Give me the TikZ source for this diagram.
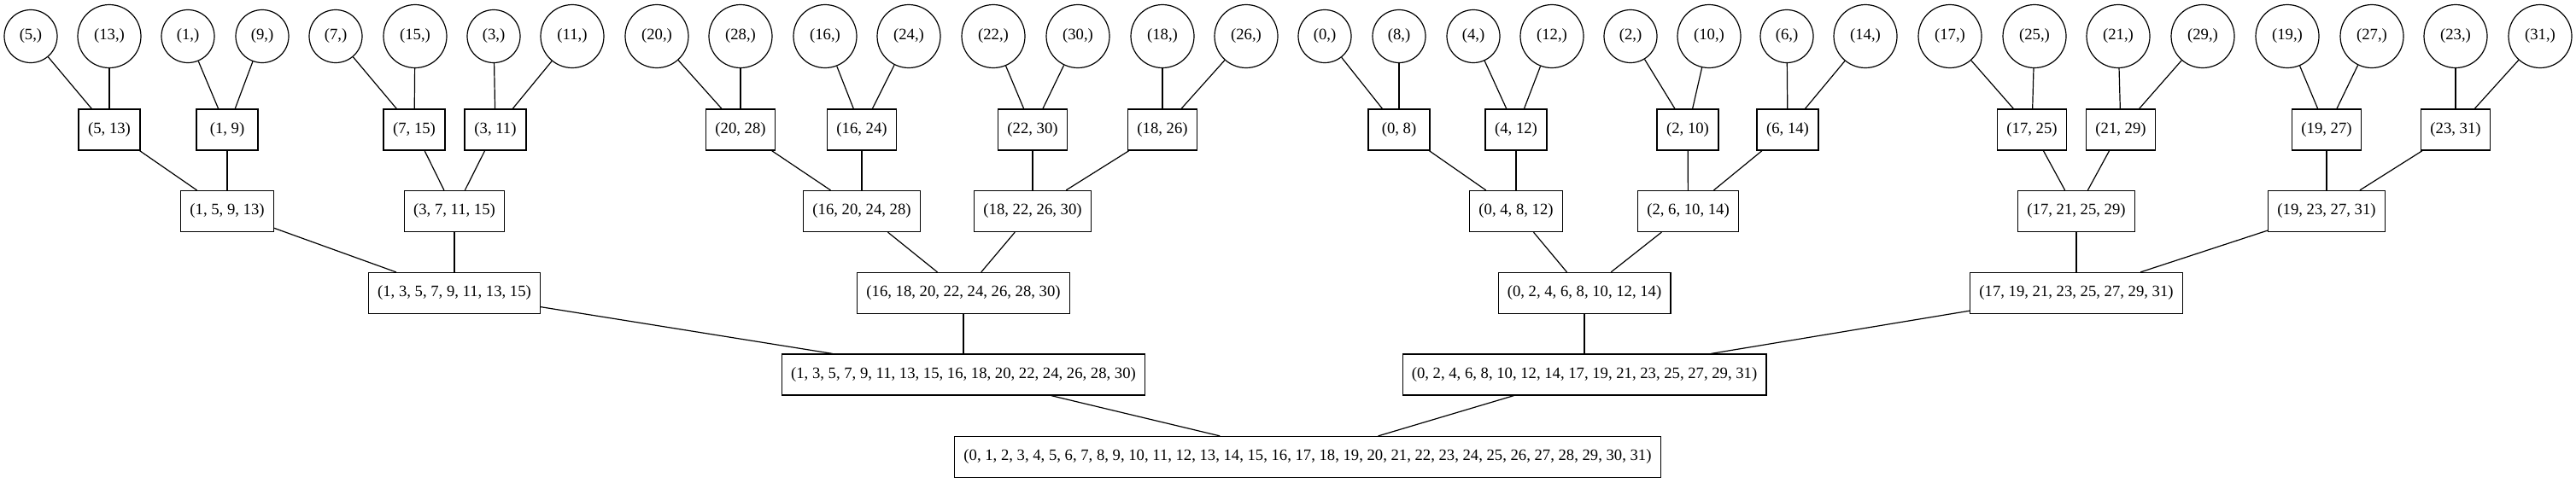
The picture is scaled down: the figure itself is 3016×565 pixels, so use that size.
\documentclass[tikz,border=0pt]{standalone}
\usepackage{fontspec}
\setmainfont{Liberation Serif}
\begin{document}
\begin{tikzpicture}[x=0.75pt,y=-0.75pt,
  box/.style={draw, line width=0.9pt, rectangle, minimum height=36pt, minimum width=54pt, inner xsep=8pt, inner ysep=0pt, font=\fontsize{14}{16}\selectfont},
  leafs/.style={draw, circle, line width=0.9pt, inner sep=0pt, minimum size=46.5pt, font=\fontsize{14}{16}\selectfont},
  leafd/.style={leafs, minimum size=55.5pt},
  conn/.style={line width=0.9pt}]
\useasboundingbox (0,0) rectangle (3016,565);
% leaves
\node[leafs] (l5)  at (36,42.5)   {(5,)};
\node[leafd] (l13) at (128,42.5)  {(13,)};
\node[leafs] (l1)  at (220,42.5)  {(1,)};
\node[leafs] (l9)  at (307,42.5)  {(9,)};
\node[leafs] (l7)  at (393,42.5)  {(7,)};
\node[leafd] (l15) at (486,42.5)  {(15,)};
\node[leafs] (l3)  at (578,42.5)  {(3,)};
\node[leafd] (l11) at (670,42.5)  {(11,)};
\node[leafd] (l20) at (769,42.5)  {(20,)};
\node[leafd] (l28) at (867,42.5)  {(28,)};
\node[leafd] (l16) at (966,42.5)  {(16,)};
\node[leafd] (l24) at (1064,42.5) {(24,)};
\node[leafd] (l22) at (1163,42.5) {(22,)};
\node[leafd] (l30) at (1262,42.5) {(30,)};
\node[leafd] (l18) at (1361,42.5) {(18,)};
\node[leafd] (l26) at (1459,42.5) {(26,)};
\node[leafs] (l0)  at (1551,42.5) {(0,)};
\node[leafs] (l8)  at (1638,42.5) {(8,)};
\node[leafs] (l4)  at (1725,42.5) {(4,)};
\node[leafd] (l12) at (1817,42.5) {(12,)};
\node[leafs] (l2)  at (1909,42.5) {(2,)};
\node[leafd] (l10) at (2001,42.5) {(10,)};
\node[leafs] (l6)  at (2092,42.5) {(6,)};
\node[leafd] (l14) at (2184,42.5) {(14,)};
\node[leafd] (l17) at (2283,42.5) {(17,)};
\node[leafd] (l25) at (2382,42.5) {(25,)};
\node[leafd] (l21) at (2480,42.5) {(21,)};
\node[leafd] (l29) at (2579,42.5) {(29,)};
\node[leafd] (l19) at (2678,42.5) {(19,)};
\node[leafd] (l27) at (2777,42.5) {(27,)};
\node[leafd] (l23) at (2875,42.5) {(23,)};
\node[leafd] (l31) at (2974,42.5) {(31,)};
% level 1
\node[box] (p513)  at (128,152)  {(5, 13)};
\node[box] (p19)   at (266,152)  {(1, 9)};
\node[box] (p715)  at (485,152)  {(7, 15)};
\node[box] (p311)  at (580,152)  {(3, 11)};
\node[box] (p2028) at (867,152)  {(20, 28)};
\node[box] (p1624) at (1009,152) {(16, 24)};
\node[box] (p2230) at (1209,152) {(22, 30)};
\node[box] (p1826) at (1361,152) {(18, 26)};
\node[box] (p08)   at (1638,152) {(0, 8)};
\node[box] (p412)  at (1775,152) {(4, 12)};
\node[box] (p210)  at (1976,152) {(2, 10)};
\node[box] (p614)  at (2093,152) {(6, 14)};
\node[box] (p1725) at (2379,152) {(17, 25)};
\node[box] (p2129) at (2483,152) {(21, 29)};
\node[box] (p1927) at (2724,152) {(19, 27)};
\node[box] (p2331) at (2875,152) {(23, 31)};
% level 2
\node[box] (q1) at (266,247.5)    {(1, 5, 9, 13)};
\node[box] (q3) at (532,247.5)    {(3, 7, 11, 15)};
\node[box] (q16) at (1009,247.5)  {(16, 20, 24, 28)};
\node[box] (q18) at (1209,247.5)  {(18, 22, 26, 30)};
\node[box] (q0) at (1775,247.5)   {(0, 4, 8, 12)};
\node[box] (q2) at (1976.5,247.5) {(2, 6, 10, 14)};
\node[box] (q17) at (2431,247.5)  {(17, 21, 25, 29)};
\node[box] (q19) at (2724,247.5)  {(19, 23, 27, 31)};
% level 3
\node[box] (r1)  at (532,343.5)  {(1, 3, 5, 7, 9, 11, 13, 15)};
\node[box] (r16) at (1128,343.5) {(16, 18, 20, 22, 24, 26, 28, 30)};
\node[box] (r0)  at (1855,343.5) {(0, 2, 4, 6, 8, 10, 12, 14)};
\node[box] (r17) at (2431,343.5) {(17, 19, 21, 23, 25, 27, 29, 31)};
% level 4
\node[box] (s1) at (1128,439) {(1, 3, 5, 7, 9, 11, 13, 15, 16, 18, 20, 22, 24, 26, 28, 30)};
\node[box] (s0) at (1855,439) {(0, 2, 4, 6, 8, 10, 12, 14, 17, 19, 21, 23, 25, 27, 29, 31)};
% root
\node[box] (root) at (1531,535.5) {(0, 1, 2, 3, 4, 5, 6, 7, 8, 9, 10, 11, 12, 13, 14, 15, 16, 17, 18, 19, 20, 21, 22, 23, 24, 25, 26, 27, 28, 29, 30, 31)};
% connectors
\begin{scope}[conn]
\draw (l5) -- (p513);   \draw (l13) -- (p513);
\draw (l1) -- (p19);    \draw (l9) -- (p19);
\draw (l7) -- (p715);   \draw (l15) -- (p715);
\draw (l3) -- (p311);   \draw (l11) -- (p311);
\draw (l20) -- (p2028); \draw (l28) -- (p2028);
\draw (l16) -- (p1624); \draw (l24) -- (p1624);
\draw (l22) -- (p2230); \draw (l30) -- (p2230);
\draw (l18) -- (p1826); \draw (l26) -- (p1826);
\draw (l0) -- (p08);    \draw (l8) -- (p08);
\draw (l4) -- (p412);   \draw (l12) -- (p412);
\draw (l2) -- (p210);   \draw (l10) -- (p210);
\draw (l6) -- (p614);   \draw (l14) -- (p614);
\draw (l17) -- (p1725); \draw (l25) -- (p1725);
\draw (l21) -- (p2129); \draw (l29) -- (p2129);
\draw (l19) -- (p1927); \draw (l27) -- (p1927);
\draw (l23) -- (p2331); \draw (l31) -- (p2331);
\draw (p513) -- (q1);   \draw (p19) -- (q1);
\draw (p715) -- (q3);   \draw (p311) -- (q3);
\draw (p2028) -- (q16); \draw (p1624) -- (q16);
\draw (p2230) -- (q18); \draw (p1826) -- (q18);
\draw (p08) -- (q0);    \draw (p412) -- (q0);
\draw (p210) -- (q2);   \draw (p614) -- (q2);
\draw (p1725) -- (q17); \draw (p2129) -- (q17);
\draw (p1927) -- (q19); \draw (p2331) -- (q19);
\draw (q1) -- (r1);     \draw (q3) -- (r1);
\draw (q16) -- (r16);   \draw (q18) -- (r16);
\draw (q0) -- (r0);     \draw (q2) -- (r0);
\draw (q17) -- (r17);   \draw (q19) -- (r17);
\draw (r1) -- (s1);     \draw (r16) -- (s1);
\draw (r0) -- (s0);     \draw (r17) -- (s0);
\draw (s1) -- (root);   \draw (s0) -- (root);
\end{scope}
\end{tikzpicture}
\end{document}
